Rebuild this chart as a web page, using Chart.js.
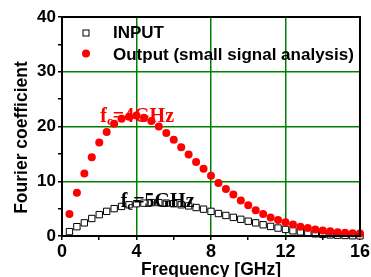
<!DOCTYPE html>
<html>
<head>
<meta charset="utf-8">
<script src="https://cdn.jsdelivr.net/npm/chart.js@4"></script>
<style>
html,body{margin:0;padding:0;background:#fff;}
#wrap{width:371px;height:277px;position:relative;}
</style>
</head>
<body>
<div id="wrap"><canvas id="c" width="371" height="277"></canvas></div>
<script>
const frequencies = [0.4,0.8,1.2,1.6,2.0,2.4,2.8,3.2,3.6,4.0,4.4,4.8,5.2,5.6,6.0,6.4,6.8,7.2,7.6,8.0,
  8.4,8.8,9.2,9.6,10.0,10.4,10.8,11.2,11.6,12.0,12.4,12.8,13.2,13.6,14.0,14.4,14.8,15.2,15.6,16.0];
const inputValues = [0.8,1.7,2.4,3.2,3.9,4.5,5.0,5.4,5.7,5.9,6.0,6.1,6.1,6.0,5.9,5.7,5.5,5.2,4.9,4.5,
  4.1,3.75,3.4,3.05,2.7,2.4,2.05,1.75,1.45,1.2,0.95,0.75,0.55,0.4,0.3,0.2,0.15,0.1,0.05,0.03];
const outputValues = [4.0,7.9,11.4,14.4,17.1,19.0,20.5,21.4,21.8,22.0,21.6,21.0,20.0,18.8,17.6,16.2,14.9,13.5,12.3,11.0,
  9.7,8.6,7.6,6.5,5.6,4.7,4.0,3.4,2.9,2.5,2.1,1.7,1.45,1.2,1.0,0.85,0.7,0.6,0.5,0.45];
const seriesNames = ["INPUT", "Output (small signal analysis)"];
const xTickLabels = [0,4,8,12,16];
const yTickLabels = [0,10,20,30,40];
const xTitle = "Frequency [GHz]";
const yTitle = "Fourier coefficient";
const annotations = [
  {base:"f", sub:"c", rest:"=4GHz", x:4.2, y:20.8, color:"#ff0000"},
  {base:"f", sub:"c", rest:"=5GHz", x:5.3, y:5.3, color:"#000000"}
];

const GREEN = "#008000";
const tickFont = {family:"'Liberation Sans', Arial, sans-serif", size:17, weight:"bold"};

const toPts = (xs, ys) => xs.map((x,i)=>({x:x, y:ys[i]}));

const overlay = {
  id:"overlay",
  afterDatasetsDraw(chart){
    const ctx = chart.ctx, a = chart.chartArea;
    const xs = chart.scales.x, ys = chart.scales.y;
    ctx.save();
    // frame
    ctx.strokeStyle = "#000"; ctx.lineWidth = 2;
    ctx.strokeRect(a.left, a.top, a.right - a.left, a.bottom - a.top);
    // legend
    const lx = a.left + 24, tx = a.left + 51;
    ctx.fillStyle = "#fff"; ctx.strokeStyle = "#000"; ctx.lineWidth = 1;
    ctx.fillRect(lx-3, 30, 6, 6); ctx.strokeRect(lx-3, 30, 6, 6);
    ctx.fillStyle = "#ff0000";
    ctx.beginPath(); ctx.arc(lx, 53.5, 4, 0, Math.PI*2); ctx.fill();
    ctx.fillStyle = "#000";
    ctx.font = "bold 17px 'Liberation Sans', Arial, sans-serif";
    ctx.textAlign = "left"; ctx.textBaseline = "middle";
    ctx.fillText(seriesNames[0], tx, 33);
    ctx.fillText(seriesNames[1], tx, 55);
    // annotations
    ctx.textBaseline = "alphabetic";
    annotations.forEach(an=>{
      let px = xs.getPixelForValue(an.x) - 40, py = ys.getPixelForValue(an.y);
      ctx.fillStyle = an.color;
      ctx.font = "bold 20px 'Liberation Serif', 'Times New Roman', serif";
      ctx.fillText(an.base, px, py);
      px += ctx.measureText(an.base).width;
      ctx.font = "bold 13px 'Liberation Serif', 'Times New Roman', serif";
      ctx.fillText(an.sub, px, py + 3);
      px += ctx.measureText(an.sub).width;
      ctx.font = "bold 20px 'Liberation Serif', 'Times New Roman', serif";
      ctx.fillText(an.rest, px, py);
    });
    // axis titles
    ctx.fillStyle = "#000";
    ctx.font = "bold 17.5px 'Liberation Sans', Arial, sans-serif";
    ctx.textAlign = "center"; ctx.textBaseline = "alphabetic";
    ctx.fillText(xTitle, (a.left + a.right)/2, 275);
    ctx.translate(27, 137.5);
    ctx.rotate(-Math.PI/2);
    ctx.fillText(yTitle, 0, 0);
    ctx.restore();
  }
};

new Chart(document.getElementById("c"), {
  type: "scatter",
  data: {
    datasets: [
      {label: seriesNames[1], data: toPts(frequencies, outputValues), order: 0,
       pointStyle: "circle", pointRadius: 4, pointHoverRadius: 4,
       backgroundColor: "#ff0000", borderColor: "#ff0000", borderWidth: 0, clip: 6},
      {label: seriesNames[0], data: toPts(frequencies, inputValues), order: 1,
       pointStyle: "rect", pointRadius: 4.5, pointHoverRadius: 4.5,
       backgroundColor: "#ffffff", borderColor: "#000000", borderWidth: 1, clip: 6}
    ]
  },
  options: {
    responsive: false, animation: false, events: [],
    layout: {padding: {left: 0, right: 10, top: 17, bottom: 0}},
    plugins: {legend: {display: false}, tooltip: {enabled: false}},
    scales: {
      x: {
        type: "linear", min: 0, max: 16,
        afterFit: s => { s.height = 41; },
        ticks: {stepSize: 2, color: "#000", font: {...tickFont, size: 18}, padding: 1, maxRotation: 0,
          callback: v => xTickLabels.includes(v) ? String(v) : ""},
        grid: {
          color: c => (c.tick && xTickLabels.includes(c.tick.value) && c.tick.value > 0 && c.tick.value < 16) ? GREEN : "rgba(0,0,0,0)",
          lineWidth: 1.5, tickColor: "#000", tickLength: 4, tickWidth: 1.5
        },
        border: {color: "#000", width: 2}
      },
      y: {
        min: 0, max: 40,
        afterFit: s => { s.width = 62; },
        ticks: {stepSize: 5, color: "#000", font: tickFont, padding: 2,
          callback: v => yTickLabels.includes(v) ? String(v) : ""},
        grid: {
          color: c => (c.tick && yTickLabels.includes(c.tick.value) && c.tick.value > 0 && c.tick.value < 40) ? GREEN : "rgba(0,0,0,0)",
          lineWidth: 1.5, tickColor: "#000", tickLength: 4, tickWidth: 1.5
        },
        border: {color: "#000", width: 2}
      }
    }
  },
  plugins: [overlay]
});
</script>
</body>
</html>
